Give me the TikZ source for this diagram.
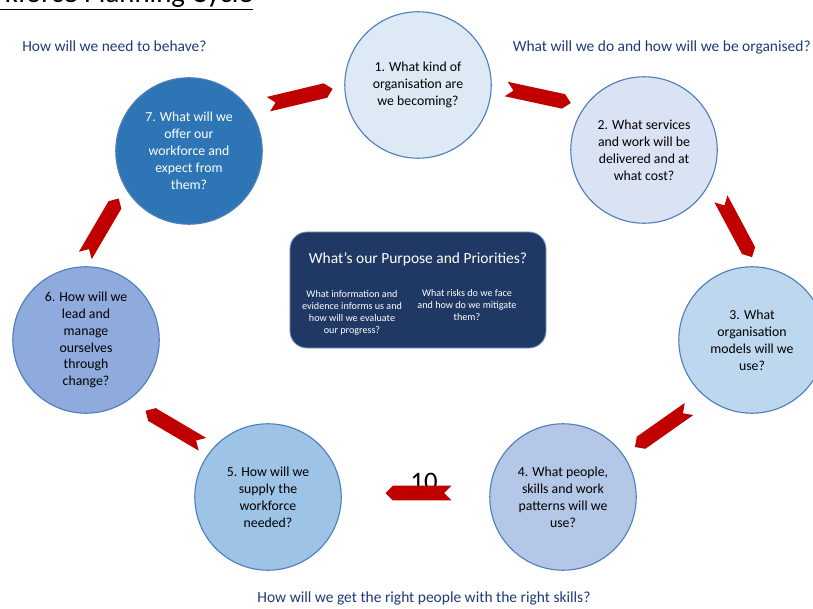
\documentclass[tikz,border=0pt]{standalone}
\usepackage{fontspec}
\setmainfont{Carlito}
\usetikzlibrary{shapes.symbols}

\definecolor{stageedge}{HTML}{4F7FBA}
\definecolor{fillone}{HTML}{DDEAF6}
\definecolor{filltwo}{HTML}{DAE3F3}
\definecolor{fillthree}{HTML}{BDD7EE}
\definecolor{fillfour}{HTML}{B4C7E7}
\definecolor{fillfive}{HTML}{9DC3E6}
\definecolor{fillsix}{HTML}{8FAADC}
\definecolor{fillseven}{HTML}{2E75B6}
\definecolor{purposefill}{HTML}{203864}
\definecolor{purposeedge}{HTML}{7F9CCB}
\definecolor{chevred}{HTML}{C00000}
\definecolor{qblue}{HTML}{1F3A7A}

\begin{document}
\begin{tikzpicture}[x=0.025cm, y=-0.025cm, font=\fontsize{9.8}{12}\selectfont]
    \tikzstyle{stage}=[circle, draw=stageedge, line width=0.8pt, minimum size=3.66cm,
                       inner sep=0pt, align=center]
    \tikzstyle{chev}=[signal, signal from=west, signal to=east, fill=chevred,
                      minimum width=1.65cm, minimum height=0.37cm, inner sep=0pt,
                      sloped, allow upside down]
    \tikzstyle{question}=[text=qblue, font=\fontsize{11}{13}\selectfont, inner sep=0pt]
    \tikzstyle{small}=[text=white, align=center, font=\fontsize{7.2}{8.6}\selectfont]

    \useasboundingbox (0,0) rectangle (813,609);

    % title, cut off at the top edge
    \node[anchor=base east, inner sep=0pt, font=\fontsize{20.5}{22}\selectfont]
        (T) at (253,3) {Workforce Planning Cycle};
    \draw[line width=1pt] ([yshift=-1pt]T.south west) -- ([yshift=-1pt]T.south east);

    \node[question, anchor=base west] (Qbehave)   at (22,52)   {How will we need to behave?};
    \node[question, anchor=base east] (Qorganise) at (811,52)  {What will we do and how will we be organised?};
    \node[question, anchor=base]      (Qpeople)   at (424,602) {How will we get the right people with the right skills?};

    % the seven stages
    \node[stage, fill=fillone]   (S1) at (418,85)  {1. What kind of\\organisation are\\we becoming?};
    \node[stage, fill=filltwo]   (S2) at (644,150) {2. What services\\and work will be\\delivered and at\\what cost?};
    \node[stage, fill=fillthree] (S3) at (752,340) {3. What\\organisation\\models will we\\use?};
    \node[stage, fill=fillfour]  (S4) at (563,497) {4. What people,\\skills and work\\patterns will we\\use?};
    \node[stage, fill=fillfive]  (S5) at (268,497) {5. How will we\\supply the\\workforce\\needed?};
    \node[stage, fill=fillsix]   (S6) at (86,340)  {6. How will we\\lead and\\manage\\ourselves\\through\\change?};
    \node[stage, fill=fillseven, text=white] (S7) at (189,151)
        {7. What will we\\offer our\\workforce and\\expect from\\them?};

    % purpose box in the middle
    \node[draw=purposeedge, fill=purposefill, rounded corners=12pt, line width=0.6pt,
          minimum width=6.4cm, minimum height=2.9cm] (P) at (418,290) {};
    \node[text=white, font=\fontsize{11}{13}\selectfont] (Ph) at (418,259)
        {What’s our Purpose and Priorities?};
    \node[small] (Pl) at (352,313) {What information and\\evidence informs us and\\how will we evaluate\\our progress?};
    \node[small] (Pr) at (467,305) {What risks do we face\\and how do we mitigate\\them?};

    \node[anchor=base, inner sep=0pt, font=\fontsize{19}{20}\selectfont] (pg) at (424,490) {10};

    % chevrons between the stages
    \coordinate (t71) at (269,104); \coordinate (h71) at (332,89);
    \coordinate (t12) at (506,89);  \coordinate (h12) at (571,103);
    \coordinate (t23) at (721,199); \coordinate (h23) at (752,257);
    \coordinate (t34) at (689,409); \coordinate (h34) at (635,447);
    \coordinate (t45) at (451,493); \coordinate (h45) at (386,493);
    \coordinate (t56) at (202,444); \coordinate (h56) at (146,411);
    \coordinate (t67) at (85,256);  \coordinate (h67) at (119,198);

    \path (t71) -- (h71) node[chev, midway] {};
    \path (t12) -- (h12) node[chev, midway] {};
    \path (t23) -- (h23) node[chev, midway] {};
    \path (t34) -- (h34) node[chev, midway] {};
    \path (t45) -- (h45) node[chev, midway] {};
    \path (t56) -- (h56) node[chev, midway] {};
    \path (t67) -- (h67) node[chev, midway] {};
\end{tikzpicture}
\end{document}
